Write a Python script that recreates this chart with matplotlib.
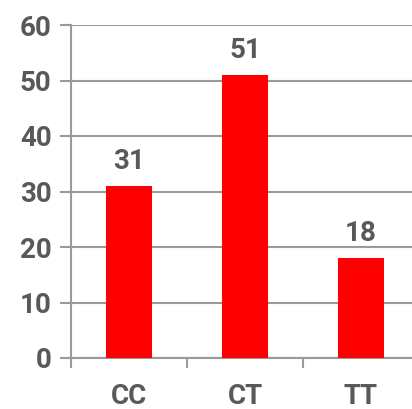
import matplotlib.pyplot as plt

categories = ["CC", "CT", "TT"]
values = [31, 51, 18]
yticks = [0, 10, 20, 30, 40, 50, 60]

text_color = "#595959"
grid_color = "#9a9a9a"
plt.rcParams["font.family"] = ["Roboto", "DejaVu Sans"]
fs = 20

fig = plt.figure(figsize=(4.12, 4.09), dpi=100)
W, H = 412, 409
ax = fig.add_axes([71 / W, 51 / H, 348 / W, 333 / H])

x = list(range(len(categories)))
bars = ax.bar(x, values, width=0.4, color="#ff0000", zorder=3)
for xi, v in zip(x, values):
    ax.annotate(str(v), (xi, v), xytext=(0, 8), textcoords="offset points",
                ha="center", va="bottom", fontsize=fs, fontweight="bold",
                color=text_color)

ax.set_xlim(-0.5, 2.5)
ax.set_ylim(0, 60)
ax.set_yticks(yticks)
ax.yaxis.grid(True, color=grid_color, linewidth=1.5, zorder=0)
ax.tick_params(axis="y", length=8, width=1.5, color=grid_color, pad=6,
               labelsize=fs, labelcolor=text_color)
for lab in ax.get_yticklabels():
    lab.set_fontweight("bold")

ax.set_xticks([-0.5, 0.5, 1.5, 2.5])
ax.set_xticklabels([])
ax.tick_params(axis="x", which="major", length=7.5, width=1.5, color=grid_color)
ax.set_xticks(x, minor=True)
ax.set_xticklabels(categories, minor=True)
ax.tick_params(axis="x", which="minor", length=0, pad=18, labelsize=fs,
               labelcolor=text_color)
for lab in ax.get_xticklabels(minor=True):
    lab.set_fontweight("bold")

for s in ["top", "right"]:
    ax.spines[s].set_visible(False)
for s in ["left", "bottom"]:
    ax.spines[s].set_color(grid_color)
    ax.spines[s].set_linewidth(1.5)

fig.savefig("out.png", dpi=100)
